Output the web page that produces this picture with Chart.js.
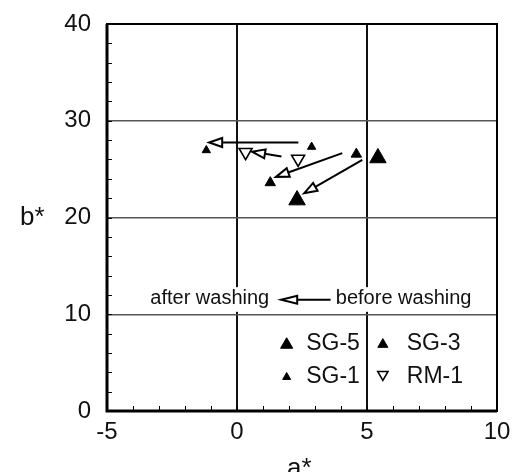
<!DOCTYPE html>
<html>
<head>
<meta charset="utf-8">
<script src="https://cdn.jsdelivr.net/npm/chart.js@4/dist/chart.umd.min.js"></script>
<style>
  html, body { margin: 0; padding: 0; background: #fff; }
  canvas { display: block; }
</style>
</head>
<body>
<canvas id="labChart" width="513" height="472"></canvas>
<script>
// samples and their colour coordinates before / after washing
const sampleNames = ["SG-5", "SG-3", "SG-1", "RM-1"];
const beforeA = [5.42, 4.59, 2.87, 2.35];
const beforeB = [26.15, 26.55, 27.3, 26.05];
const afterA = [2.31, 1.28, -1.18, 0.33];
const afterB = [21.8, 23.6, 26.95, 26.75];

// arrows (tail -> tip) in a*, b*
const arrowFromA = [4.82, 4.05, 2.36, 1.71];
const arrowFromB = [25.96, 26.65, 27.75, 26.3];
const arrowToA = [2.58, 1.5, -1.07, 0.58];
const arrowToB = [22.5, 24.2, 27.75, 26.8];

// axis ticks
const xTicks = [-5, 0, 5, 10];
const yTicks = [0, 10, 20, 30, 40];
const xMinorStep = 1;
const yMinorStep = 2;

// marker look per sample
const markerRadius = [9.5, 6, 4.8, 7.5];
const markerRotation = [0, 0, 0, 180];
const markerFill = ["#000", "#000", "#000", "#fff"];
const legendRadius = [7, 5.8, 4.6, 6];

const FONT = "'Liberation Sans', Arial, sans-serif";

const datasets = sampleNames.map((name, i) => ({
  label: name,
  data: [
    { x: beforeA[i], y: beforeB[i] },
    { x: afterA[i], y: afterB[i] },
  ],
  pointStyle: "triangle",
  pointRadius: markerRadius[i],
  pointRotation: markerRotation[i],
  backgroundColor: markerFill[i],
  borderColor: "#000",
  borderWidth: i === 3 ? 1.6 : 1,
  showLine: false,
}));

function drawArrow(ctx, x1, y1, x2, y2, headLen, headHalf) {
  const ang = Math.atan2(y2 - y1, x2 - x1);
  const bx = x2 - Math.cos(ang) * headLen;
  const by = y2 - Math.sin(ang) * headLen;
  ctx.beginPath();
  ctx.moveTo(x1, y1);
  ctx.lineTo(bx, by);
  ctx.stroke();
  const nx = -Math.sin(ang) * headHalf;
  const ny = Math.cos(ang) * headHalf;
  ctx.beginPath();
  ctx.moveTo(x2, y2);
  ctx.lineTo(bx + nx, by + ny);
  ctx.lineTo(bx - nx, by - ny);
  ctx.closePath();
  ctx.fillStyle = "#fff";
  ctx.fill();
  ctx.stroke();
}

function drawTri(ctx, x, y, r, rot, fill) {
  let rad = (rot * Math.PI) / 180;
  ctx.beginPath();
  for (let k = 0; k < 3; k++) {
    const px = x + Math.sin(rad) * r;
    const py = y - Math.cos(rad) * r;
    if (k === 0) ctx.moveTo(px, py);
    else ctx.lineTo(px, py);
    rad += (2 * Math.PI) / 3;
  }
  ctx.closePath();
  ctx.fillStyle = fill;
  ctx.fill();
  ctx.lineWidth = fill === "#fff" ? 1.5 : 1;
  ctx.strokeStyle = "#000";
  ctx.stroke();
}

const decor = {
  id: "decor",
  beforeDatasetsDraw(chart) {
    const { ctx, scales } = chart;
    const xs = scales.x, ys = scales.y;
    // white band behind the washing note
    ctx.save();
    ctx.fillStyle = "#fff";
    const l = xs.getPixelForValue(-3.64), r = xs.getPixelForValue(9.56);
    const t = ys.getPixelForValue(12.8), b = ys.getPixelForValue(10.25);
    ctx.fillRect(l, t, r - l, b - t);
    ctx.restore();
  },
  afterDatasetsDraw(chart) {
    const { ctx, scales } = chart;
    const xs = scales.x, ys = scales.y;
    ctx.save();
    ctx.strokeStyle = "#000";
    ctx.lineWidth = 2;

    // arrows from before to after
    for (let i = 0; i < sampleNames.length; i++) {
      drawArrow(ctx,
        xs.getPixelForValue(arrowFromA[i]), ys.getPixelForValue(arrowFromB[i]),
        xs.getPixelForValue(arrowToA[i]), ys.getPixelForValue(arrowToB[i]), 13, 4.5);
    }

    // note
    ctx.fillStyle = "#111";
    ctx.font = "20px " + FONT;
    ctx.textBaseline = "middle";
    const ny = ys.getPixelForValue(11.6);
    ctx.textAlign = "right";
    ctx.fillText("after washing", xs.getPixelForValue(1.24), ny);
    ctx.textAlign = "left";
    ctx.fillText("before washing", xs.getPixelForValue(3.8), ny);
    ctx.lineWidth = 2;
    drawArrow(ctx, xs.getPixelForValue(3.6), ny + 1, xs.getPixelForValue(1.7), ny + 1, 16, 4);

    // legend
    const legX = [1.91, 5.61, 1.91, 5.61];
    const legTextX = [2.66, 6.53, 2.66, 6.53];
    const legY = [7.03, 7.03, 3.62, 3.62];
    ctx.font = "23px " + FONT;
    ctx.textAlign = "left";
    for (let i = 0; i < sampleNames.length; i++) {
      const px = xs.getPixelForValue(legX[i]);
      const py = ys.getPixelForValue(legY[i]);
      const off = markerRotation[i] ? -legendRadius[i] / 4 : legendRadius[i] / 4;
      drawTri(ctx, px, py + off, legendRadius[i], markerRotation[i], markerFill[i]);
      ctx.fillStyle = "#111";
      ctx.fillText(sampleNames[i], xs.getPixelForValue(legTextX[i]), py + 1);
    }
    ctx.restore();
  },
  afterDraw(chart) {
    const { ctx, scales, chartArea: ca } = chart;
    const xs = scales.x, ys = scales.y;
    ctx.save();
    ctx.strokeStyle = "#000";
    // minor ticks, pointing inward
    ctx.lineWidth = 1;
    for (let v = xs.min; v <= xs.max; v += xMinorStep) {
      const px = Math.round(xs.getPixelForValue(v)) + 0.5;
      ctx.beginPath();
      ctx.moveTo(px, ca.bottom);
      ctx.lineTo(px, ca.bottom - 5);
      ctx.stroke();
    }
    for (let v = ys.min; v <= ys.max; v += yMinorStep) {
      const py = Math.round(ys.getPixelForValue(v)) + 0.5;
      ctx.beginPath();
      ctx.moveTo(ca.left, py);
      ctx.lineTo(ca.left + 5, py);
      ctx.stroke();
    }
    // frame
    ctx.lineWidth = 2;
    ctx.strokeRect(ca.left, ca.top, ca.right - ca.left, ca.bottom - ca.top);
    ctx.lineWidth = 3;
    ctx.beginPath();
    ctx.moveTo(ca.left, ca.top);
    ctx.lineTo(ca.left, ca.bottom);
    ctx.lineTo(ca.right, ca.bottom);
    ctx.stroke();

    // axis titles
    ctx.fillStyle = "#111";
    ctx.font = "26px " + FONT;
    ctx.textBaseline = "middle";
    ctx.textAlign = "left";
    ctx.fillText("b*", 20, ys.getPixelForValue(20));
    ctx.textBaseline = "alphabetic";
    ctx.fillText("a*", 287, 476);
    ctx.restore();
  },
};

const chart = new Chart(document.getElementById("labChart").getContext("2d"), {
  type: "scatter",
  data: { datasets },
  options: {
    responsive: false,
    animation: false,
    layout: { padding: { left: 0, top: 24, right: 16, bottom: 0 } },
    plugins: { legend: { display: false }, tooltip: { enabled: false } },
    scales: {
      x: {
        type: "linear",
        min: -5,
        max: 10,
        afterBuildTicks: (s) => { s.ticks = xTicks.map((v) => ({ value: v })); },
        afterFit: (s) => { s.height = 61; s.paddingLeft = 0; s.paddingRight = 0; },
        border: { display: false },
        grid: {
          drawTicks: false,
          lineWidth: 2,
          color: (c) => (c.tick && (c.tick.value === 0 || c.tick.value === 5) ? "#111" : "rgba(0,0,0,0)"),
        },
        ticks: {
          autoSkip: false,
          maxRotation: 0,
          padding: 7,
          color: "#111",
          font: { family: FONT, size: 24 },
        },
      },
      y: {
        type: "linear",
        min: 0,
        max: 40,
        afterBuildTicks: (s) => { s.ticks = yTicks.map((v) => ({ value: v })); },
        afterFit: (s) => { s.width = 107; s.paddingTop = 0; s.paddingBottom = 0; },
        border: { display: false },
        grid: {
          drawTicks: false,
          lineWidth: 1.5,
          color: (c) => (c.tick && c.tick.value > 0 && c.tick.value < 40 ? "#555" : "rgba(0,0,0,0)"),
        },
        ticks: {
          padding: 16,
          color: "#111",
          font: { family: FONT, size: 24 },
        },
      },
    },
  },
  plugins: [decor],
});
</script>
</body>
</html>
